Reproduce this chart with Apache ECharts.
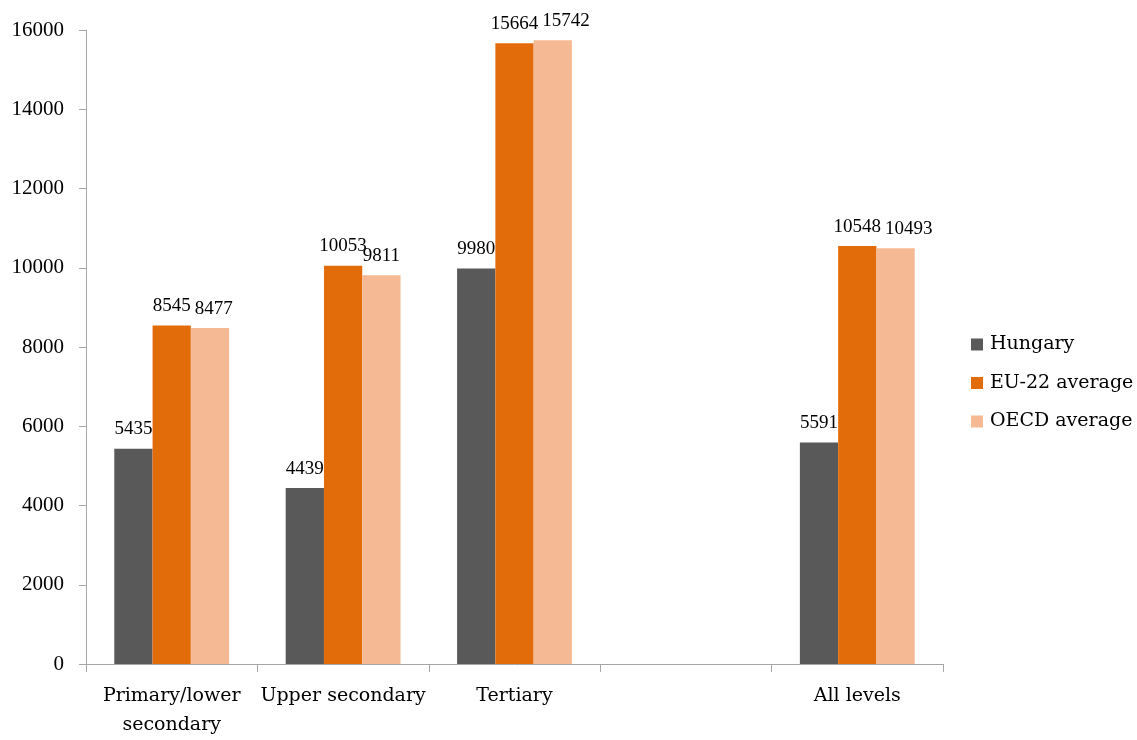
<!DOCTYPE html>
<html>
<head>
<meta charset="utf-8">
<script src="https://cdn.jsdelivr.net/npm/echarts@6/dist/echarts.min.js"></script>
<style>
  html, body { margin: 0; padding: 0; background: #fff; overflow: hidden; }
  #chart { width: 1137px; height: 740px; }
</style>
</head>
<body>
<div id="chart"></div>
<script>
// Spending per student by level of education
const categories = ['Primary/lower\nsecondary', 'Upper secondary', 'Tertiary', '', 'All levels'];
const hungary = [5435, 4439, 9980, null, 5591];
const eu22 = [8545, 10053, 15664, null, 10548];
const oecd = [8477, 9811, 15742, null, 10493];
const seriesNames = ['Hungary', 'EU-22 average', 'OECD average'];
const yTicks = { min: 0, max: 16000, interval: 2000 };

const TEXT_FONT = 'DejaVu Serif';
const NUM_FONT = 'Liberation Serif';
const axisGray = '#A6A6A6';

// Value labels of neighbouring bars can collide when the values are close;
// the right-hand label is pushed sideways just past its left neighbour.
const placedRects = {};
const LABEL_GAP = 4;
function avoidNeighbour(params) {
  const r = params.labelRect;
  const key = params.dataIndex;
  const left = placedRects[key];
  placedRects[key] = { x: r.x, y: r.y, width: r.width, height: r.height };
  if (!left) return {};
  const overlapX = left.x + left.width - r.x;
  const overlapY = Math.min(left.y + left.height, r.y + r.height) - Math.max(left.y, r.y);
  if (overlapX > -LABEL_GAP && overlapY > r.height * 0.5) {
    const dx = overlapX + LABEL_GAP;
    placedRects[key].x += dx;
    return { dx: dx };
  }
  return {};
}

function bar(name, data, color) {
  return {
    name: name,
    type: 'bar',
    data: data,
    barGap: '0%',
    barCategoryGap: '33%',
    itemStyle: { color: color },
    label: {
      show: true,
      position: 'top',
      distance: 10,
      fontFamily: NUM_FONT,
      fontSize: 19,
      color: '#000'
    },
    labelLayout: avoidNeighbour
  };
}

const chart = echarts.init(document.getElementById('chart'), null, { renderer: 'canvas' });
chart.setOption({
  animation: false,
  backgroundColor: '#fff',
  grid: { left: 86, top: 30, width: 857, height: 640, containLabel: false },
  legend: {
    orient: 'vertical',
    left: 966,
    top: 330,
    itemWidth: 12,
    itemHeight: 12,
    itemGap: 19.5,
    icon: 'rect',
    textStyle: { fontFamily: TEXT_FONT, fontSize: 19, color: '#000', padding: [0, 0, 0, 2] },
    data: seriesNames
  },
  xAxis: {
    type: 'category',
    data: categories,
    axisLine: { lineStyle: { color: axisGray, width: 1 } },
    axisTick: { show: true, length: 8, lineStyle: { color: axisGray } },
    axisLabel: {
      fontFamily: TEXT_FONT,
      fontSize: 19,
      color: '#000',
      margin: 18,
      lineHeight: 29,
      interval: 0
    }
  },
  yAxis: {
    type: 'value',
    min: yTicks.min,
    max: yTicks.max,
    interval: yTicks.interval,
    axisLine: { show: true, lineStyle: { color: axisGray, width: 1 } },
    axisTick: { show: true, length: 7, lineStyle: { color: axisGray } },
    splitLine: { show: false },
    axisLabel: {
      fontFamily: NUM_FONT,
      fontSize: 21,
      color: '#000',
      margin: 22,
      formatter: function (v) { return String(v); }
    }
  },
  series: [
    bar(seriesNames[0], hungary, '#595959'),
    bar(seriesNames[1], eu22, '#E36C0A'),
    bar(seriesNames[2], oecd, '#F5B993')
  ]
});
</script>
</body>
</html>
